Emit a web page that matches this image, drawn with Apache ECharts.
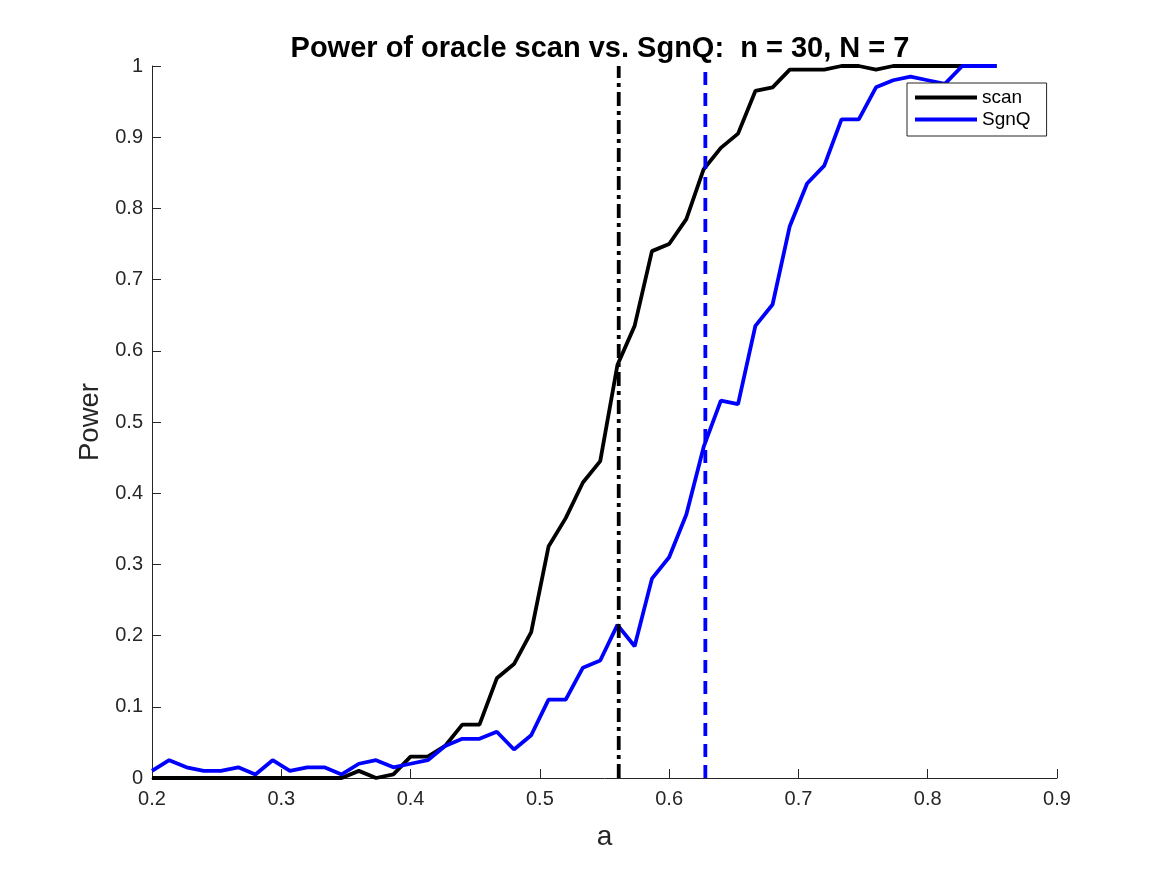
<!DOCTYPE html>
<html>
<head>
<meta charset="utf-8">
<title>Power of oracle scan vs. SgnQ</title>
<script src="https://cdn.jsdelivr.net/npm/echarts@6/dist/echarts.min.js"></script>
<style>
  html, body { margin: 0; padding: 0; background: #fff; }
  #chart { width: 1167px; height: 875px; }
</style>
</head>
<body>
<div id="chart"></div>
<script>
// signal strength a (x axis)
const aValues = [
  0.2, 0.2133, 0.2267, 0.24, 0.2533, 0.2667, 0.28, 0.2933, 0.3067, 0.32,
  0.3333, 0.3467, 0.36, 0.3733, 0.3867, 0.4, 0.4133, 0.4267, 0.44, 0.4533,
  0.4667, 0.48, 0.4933, 0.5067, 0.52, 0.5333, 0.5467, 0.56, 0.5733, 0.5867,
  0.6, 0.6133, 0.6267, 0.64, 0.6533, 0.6667, 0.68, 0.6933, 0.7067, 0.72,
  0.7333, 0.7467, 0.76, 0.7733, 0.7867, 0.8, 0.8133, 0.8267, 0.84, 0.8533
];

// power of the oracle scan test
const scanPower = [
  0, 0, 0, 0, 0, 0, 0, 0, 0, 0,
  0, 0, 0.01, 0, 0.005, 0.03, 0.03, 0.045, 0.075, 0.075,
  0.14, 0.16, 0.205, 0.325, 0.365, 0.415, 0.445, 0.58, 0.635, 0.74,
  0.75, 0.785, 0.855, 0.885, 0.905, 0.965, 0.97, 0.995, 0.995, 0.995,
  1, 1, 0.995, 1, 1, 1, 1, 1, 1, 1
];

// power of the SgnQ test
const sgnqPower = [
  0.01, 0.025, 0.015, 0.01, 0.01, 0.015, 0.005, 0.025, 0.01, 0.015,
  0.015, 0.005, 0.02, 0.025, 0.015, 0.02, 0.025, 0.045, 0.055, 0.055,
  0.065, 0.04, 0.06, 0.11, 0.11, 0.155, 0.165, 0.215, 0.185, 0.28,
  0.31, 0.37, 0.465, 0.53, 0.525, 0.635, 0.665, 0.775, 0.835, 0.86,
  0.925, 0.925, 0.97, 0.98, 0.985, 0.98, 0.975, 1, 1, 1
];

// vertical reference lines (a where each test reaches its bound)
const scanCut = 0.561;
const sgnqCut = 0.628;

const xTicks = { min: 0.2, max: 0.9, step: 0.1 };
const yTicks = { min: 0, max: 1, step: 0.1 };

const font = '"Liberation Sans", Arial, Helvetica, sans-serif';
const axisCol = '#262626';
const lw = 3.8;

function pairs(xs, ys) {
  return xs.map((x, i) => [x, ys[i]]);
}

let chart = echarts.init(document.getElementById('chart'));
let option = {
  backgroundColor: '#fff',
  animation: false,
  title: {
    text: 'Power of oracle scan vs. SgnQ:  n = 30, N = 7',
    left: 595,
    textAlign: 'center',
    top: 29,
    textStyle: { fontFamily: font, fontWeight: 'bold', fontSize: 29, color: '#000' }
  },
  legend: {
    data: ['scan', 'SgnQ'],
    orient: 'vertical',
    left: 907,
    top: 83,
    padding: [5, 16, 7, 8],
    itemGap: 3,
    itemWidth: 62,
    itemHeight: 4,
    icon: 'rect',
    borderColor: axisCol,
    borderWidth: 1,
    backgroundColor: '#fff',
    textStyle: { fontFamily: font, fontSize: 19, lineHeight: 19, color: '#000' }
  },
  grid: { left: 152, right: 110, top: 66, bottom: 97 },
  xAxis: {
    type: 'value',
    min: xTicks.min,
    max: xTicks.max,
    interval: xTicks.step,
    name: 'a',
    nameLocation: 'middle',
    nameGap: 45,
    nameTextStyle: { fontFamily: font, fontSize: 28, color: axisCol },
    axisLine: { lineStyle: { color: axisCol, width: 1 } },
    axisTick: { inside: true, length: 9, lineStyle: { color: axisCol } },
    axisLabel: { fontFamily: font, fontSize: 20, color: axisCol, margin: 11 },
    splitLine: { show: false }
  },
  yAxis: {
    type: 'value',
    min: yTicks.min,
    max: yTicks.max,
    interval: yTicks.step,
    name: 'Power',
    nameLocation: 'middle',
    nameGap: 45,
    nameTextStyle: { fontFamily: font, fontSize: 27.5, color: axisCol },
    axisLine: { show: true, lineStyle: { color: axisCol, width: 1 } },
    axisTick: { show: true, inside: true, length: 9, lineStyle: { color: axisCol } },
    axisLabel: { fontFamily: font, fontSize: 20, color: axisCol, margin: 9 },
    splitLine: { show: false }
  },
  series: [
    {
      name: 'scan',
      type: 'line',
      data: pairs(aValues, scanPower),
      symbol: 'none',
      clip: false,
      color: '#000',
      lineStyle: { color: '#000', width: lw },
      z: 2
    },
    {
      name: 'SgnQ',
      type: 'line',
      data: pairs(aValues, sgnqPower),
      symbol: 'none',
      clip: false,
      color: '#0000ff',
      lineStyle: { color: '#0000ff', width: lw },
      z: 3
    },
    {
      name: 'scanCut',
      type: 'line',
      data: [[scanCut, yTicks.min], [scanCut, yTicks.max]],
      symbol: 'none',
      clip: false,
      lineStyle: { color: '#000', width: lw, type: [14, 5, 4, 5] },
      z: 4
    },
    {
      name: 'sgnqCut',
      type: 'line',
      data: [[sgnqCut, yTicks.min], [sgnqCut, yTicks.max]],
      symbol: 'none',
      clip: false,
      lineStyle: { color: '#0000ff', width: lw, type: [13, 8] },
      z: 4
    }
  ]
};
chart.setOption(option);
</script>
</body>
</html>
